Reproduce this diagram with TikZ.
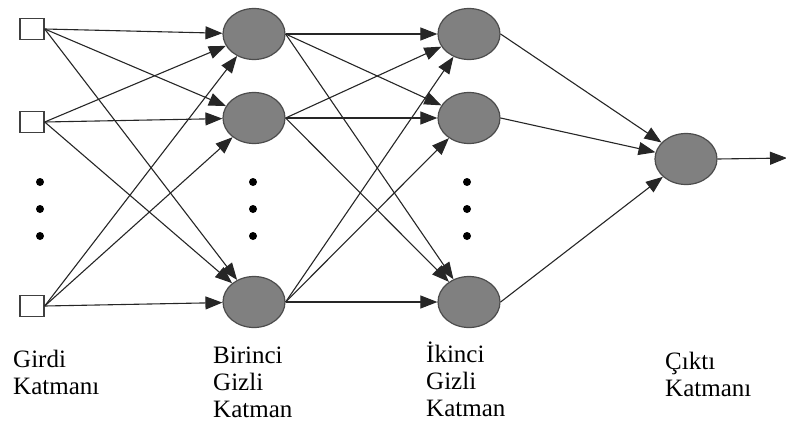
\documentclass[tikz,border=0pt]{standalone}
\usepackage{fontspec}
\setmainfont{Liberation Serif}
\usepackage{tikz}
\usetikzlibrary{shapes.geometric, arrows.meta}
\tikzstyle{arrow} = [line width=1.1pt, draw=black!85, -{Triangle[length=17pt,width=13pt]}]
\tikzstyle{girdi} = [draw=black!75, fill=white, line width=1.4pt, minimum width=24pt, minimum height=21pt, inner sep=0pt]
\tikzstyle{noron} = [ellipse, draw=black!70, fill=black!50, line width=1.2pt, minimum width=62pt, minimum height=51pt, inner sep=0pt]
\tikzstyle{nokta} = [circle, fill=black, minimum size=8pt, inner sep=0pt]
\tikzstyle{etiket} = [anchor=base west, align=left, inner sep=0pt, font=\fontsize{25}{27}\selectfont]

\begin{document}
\begin{tikzpicture}[x=1pt,y=-1pt]
\useasboundingbox (0,0) rectangle (786,423);
% girdi katmani
\node[girdi] (G1) at (32,29) {};
\node[girdi] (G2) at (32,122) {};
\node[girdi] (G3) at (32,306) {};
\node[nokta] (Gd1) at (40,182) {};
\node[nokta] (Gd2) at (40,209) {};
\node[nokta] (Gd3) at (40,236) {};
% birinci gizli katman
\node[noron] (B1) at (254,34) {};
\node[noron] (B2) at (254,118) {};
\node[noron] (B3) at (254,302) {};
\node[nokta] (Bd1) at (253,182) {};
\node[nokta] (Bd2) at (253,209) {};
\node[nokta] (Bd3) at (253,236) {};
% ikinci gizli katman
\node[noron] (I1) at (469,34) {};
\node[noron] (I2) at (469,118) {};
\node[noron] (I3) at (469,302) {};
\node[nokta] (Id1) at (467,182) {};
\node[nokta] (Id2) at (467,209) {};
\node[nokta] (Id3) at (467,236) {};
% cikti
\node[noron] (C) at (686,159) {};
\coordinate (Cout) at (787,158);
% etiketler (base = son satir)
\node[etiket] (Lg) at (13,394) {Girdi\\Katmanı};
\node[etiket] (Lb) at (213,417) {Birinci\\Gizli\\Katman};
\node[etiket] (Li) at (426,416) {İkinci\\Gizli\\Katman};
\node[etiket] (Lc) at (665,396) {Çıktı\\Katmanı};
% baglantilar
\draw[arrow] (G1.east) -- (B1);
\draw[arrow] (G1.east) -- (B2);
\draw[arrow] (G1.east) -- (B3);
\draw[arrow] (G2.east) -- (B1);
\draw[arrow] (G2.east) -- (B2);
\draw[arrow] (G2.east) -- (B3);
\draw[arrow] (G3.east) -- (B1);
\draw[arrow] (G3.east) -- (B2);
\draw[arrow] (G3.east) -- (B3);
\draw[arrow] (B1.east) -- (I1);
\draw[arrow] (B1.east) -- (I2);
\draw[arrow] (B1.east) -- (I3);
\draw[arrow] (B2.east) -- (I1);
\draw[arrow] (B2.east) -- (I2);
\draw[arrow] (B2.east) -- (I3);
\draw[arrow] (B3.east) -- (I1);
\draw[arrow] (B3.east) -- (I2);
\draw[arrow] (B3.east) -- (I3);
\draw[arrow] (I1.east) -- (C);
\draw[arrow] (I2.east) -- (C);
\draw[arrow] (I3.east) -- (C);
\draw[arrow] (C.east) -- (Cout);
\end{tikzpicture}
\end{document}
